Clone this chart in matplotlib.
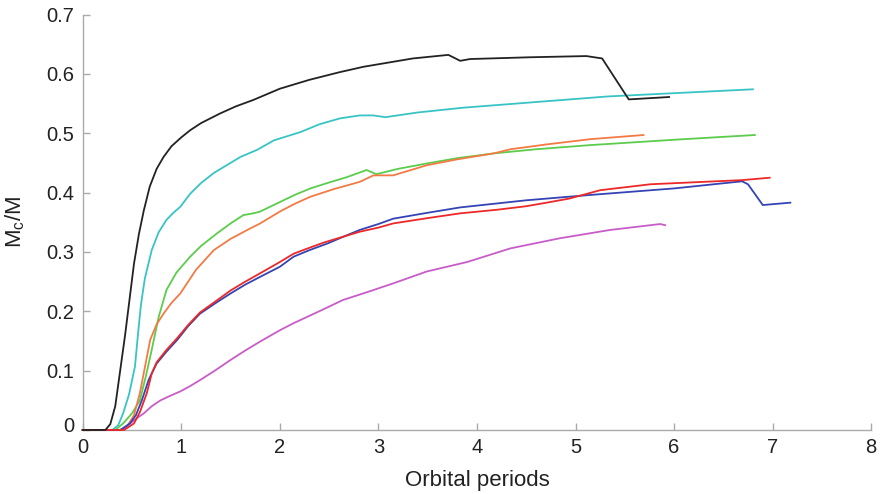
import matplotlib.pyplot as plt
from matplotlib.transforms import ScaledTranslation

plt.rcParams["font.family"] = ["Liberation Sans", "DejaVu Sans"]

# ---- data (orbital periods, Mc/M) ----
black_x = [0, 0.23, 0.28, 0.33, 0.38, 0.43, 0.475, 0.52, 0.57, 0.62, 0.68, 0.75, 0.82, 0.90,
           1.0, 1.09, 1.2, 1.39, 1.55, 1.73, 2.0, 2.3, 2.61, 2.85, 3.1, 3.35, 3.71, 3.83,
           3.93, 4.54, 5.11, 5.27, 5.54, 5.95]
black_y = [0, 0, 0.01, 0.04, 0.10, 0.16, 0.22, 0.28, 0.33, 0.37, 0.41, 0.44, 0.46, 0.478,
           0.493, 0.505, 0.517, 0.533, 0.545, 0.556, 0.575, 0.59, 0.603, 0.612, 0.619, 0.626,
           0.632, 0.622, 0.625, 0.628, 0.630, 0.626, 0.557, 0.561]

cyan_x = [0, 0.30, 0.36, 0.41, 0.47, 0.53, 0.56, 0.59, 0.63, 0.70, 0.77, 0.85, 0.92, 0.99,
          1.09, 1.2, 1.33, 1.47, 1.60, 1.77, 1.94, 2.21, 2.4, 2.61, 2.81, 2.95, 3.07, 3.4,
          3.86, 4.71, 5.33, 6.80]
cyan_y = [0, 0, 0.008, 0.028, 0.06, 0.107, 0.16, 0.21, 0.255, 0.303, 0.333, 0.354, 0.366,
          0.376, 0.398, 0.416, 0.433, 0.447, 0.460, 0.472, 0.488, 0.502, 0.515, 0.525, 0.530,
          0.530, 0.527, 0.535, 0.543, 0.554, 0.562, 0.574]

green_x = [0, 0.33, 0.41, 0.50, 0.58, 0.64, 0.70, 0.77, 0.85, 0.95, 1.09, 1.2, 1.36, 1.5,
           1.63, 1.73, 1.80, 2.0, 2.15, 2.31, 2.5, 2.68, 2.88, 2.98, 3.2, 3.49, 3.8, 4.17,
           4.6, 5.15, 6.0, 6.82]
green_y = [0, 0, 0.011, 0.028, 0.05, 0.09, 0.135, 0.19, 0.236, 0.265, 0.292, 0.31, 0.331,
           0.348, 0.362, 0.365, 0.368, 0.384, 0.396, 0.407, 0.417, 0.426, 0.438, 0.431, 0.440,
           0.449, 0.458, 0.466, 0.473, 0.480, 0.489, 0.497]

orange_x = [0, 0.38, 0.45, 0.52, 0.58, 0.63, 0.685, 0.75, 0.82, 0.90, 0.99, 1.15, 1.33, 1.5,
            1.67, 1.80, 2.0, 2.15, 2.31, 2.55, 2.81, 2.95, 3.15, 3.49, 3.8, 4.17, 4.34, 4.7,
            5.15, 5.69]
orange_y = [0, 0, 0.006, 0.025, 0.062, 0.105, 0.152, 0.178, 0.196, 0.214, 0.23, 0.27, 0.303,
            0.322, 0.337, 0.348, 0.368, 0.381, 0.393, 0.406, 0.418, 0.429, 0.429, 0.446, 0.456,
            0.466, 0.473, 0.481, 0.490, 0.497]

blue_x = [0, 0.38, 0.48, 0.54, 0.60, 0.67, 0.75, 0.85, 0.96, 1.07, 1.19, 1.35, 1.50, 1.65,
          1.80, 2.0, 2.14, 2.3, 2.48, 2.65, 2.81, 3.0, 3.15, 3.5, 3.83, 4.5, 5.15, 6.0, 6.69,
          6.75, 6.90, 7.18]
blue_y = [0, 0, 0.011, 0.025, 0.05, 0.085, 0.112, 0.132, 0.152, 0.175, 0.196, 0.214, 0.23,
          0.245, 0.258, 0.275, 0.292, 0.303, 0.314, 0.326, 0.337, 0.347, 0.356, 0.366, 0.375,
          0.387, 0.396, 0.407, 0.419, 0.414, 0.379, 0.383]

red_x = [0, 0.42, 0.52, 0.58, 0.65, 0.70, 0.75, 0.85, 0.96, 1.07, 1.19, 1.35, 1.50, 1.65,
         1.80, 2.0, 2.14, 2.3, 2.45, 2.65, 2.81, 3.0, 3.15, 3.5, 3.83, 4.2, 4.5, 4.74, 4.94,
         5.25, 5.76, 6.69, 6.97]
red_y = [0, 0, 0.011, 0.03, 0.062, 0.095, 0.114, 0.135, 0.155, 0.177, 0.198, 0.217, 0.235,
         0.250, 0.264, 0.283, 0.297, 0.307, 0.316, 0.326, 0.334, 0.341, 0.348, 0.357, 0.365,
         0.371, 0.377, 0.384, 0.390, 0.404, 0.414, 0.421, 0.425]

magenta_x = [0, 0.40, 0.48, 0.55, 0.62, 0.70, 0.79, 0.88, 0.99, 1.09, 1.19, 1.35, 1.50, 1.65,
             1.80, 2.0, 2.14, 2.4, 2.64, 2.9, 3.15, 3.49, 3.90, 4.34, 4.84, 5.35, 5.86, 5.91]
magenta_y = [0, 0, 0.011, 0.02, 0.028, 0.04, 0.05, 0.057, 0.065, 0.074, 0.084, 0.101, 0.118,
             0.134, 0.149, 0.168, 0.18, 0.20, 0.219, 0.233, 0.247, 0.267, 0.283, 0.306, 0.323,
             0.337, 0.347, 0.345]

series = [
    (cyan_x, cyan_y, "#38c4c4"),
    (green_x, green_y, "#5ccc4c"),
    (orange_x, orange_y, "#f47a44"),
    (magenta_x, magenta_y, "#c85cc8"),
    (blue_x, blue_y, "#3444b4"),
    (red_x, red_y, "#ec2828"),
    (black_x, black_y, "#222222"),
]

fig = plt.figure(figsize=(8.8, 4.94), dpi=100)
ax = fig.add_axes([0.094, 0.1296, 0.896, 0.841])

for xs, ys, c in series:
    ax.plot(xs, ys, color=c, lw=1.3, clip_on=False, zorder=3)

ax.set_xlim(0, 8)
ax.set_ylim(0, 0.7)
ax.set_xticks(range(0, 9))
ax.set_yticks([0, 0.1, 0.2, 0.3, 0.4, 0.5, 0.6, 0.7])
ax.set_yticklabels(["0", "0.1", "0.2", "0.3", "0.4", "0.5", "0.6", "0.7"])

for side in ["top", "right"]:
    ax.spines[side].set_visible(False)
for side in ["left", "bottom"]:
    ax.spines[side].set_color("#aaaaaa")
    ax.spines[side].set_linewidth(1.0)

ax.tick_params(direction="in", length=5, width=1.0, color="#aaaaaa",
               labelsize=14.5, labelcolor="#222222")
ax.tick_params(axis="y", pad=6)
ax.tick_params(axis="x", pad=6)

# the "0" label sits a little above the axis in the original
lab0 = ax.get_yticklabels()[0]
lab0.set_transform(lab0.get_transform() + ScaledTranslation(0, 5 / 100, fig.dpi_scale_trans))

ax.set_xlabel("Orbital periods", fontsize=16, color="#222222", labelpad=9)
ax.set_ylabel("M$_\\mathregular{c}$/M", fontsize=16, color="#222222", labelpad=14)

fig.savefig("out.png", dpi=100)
